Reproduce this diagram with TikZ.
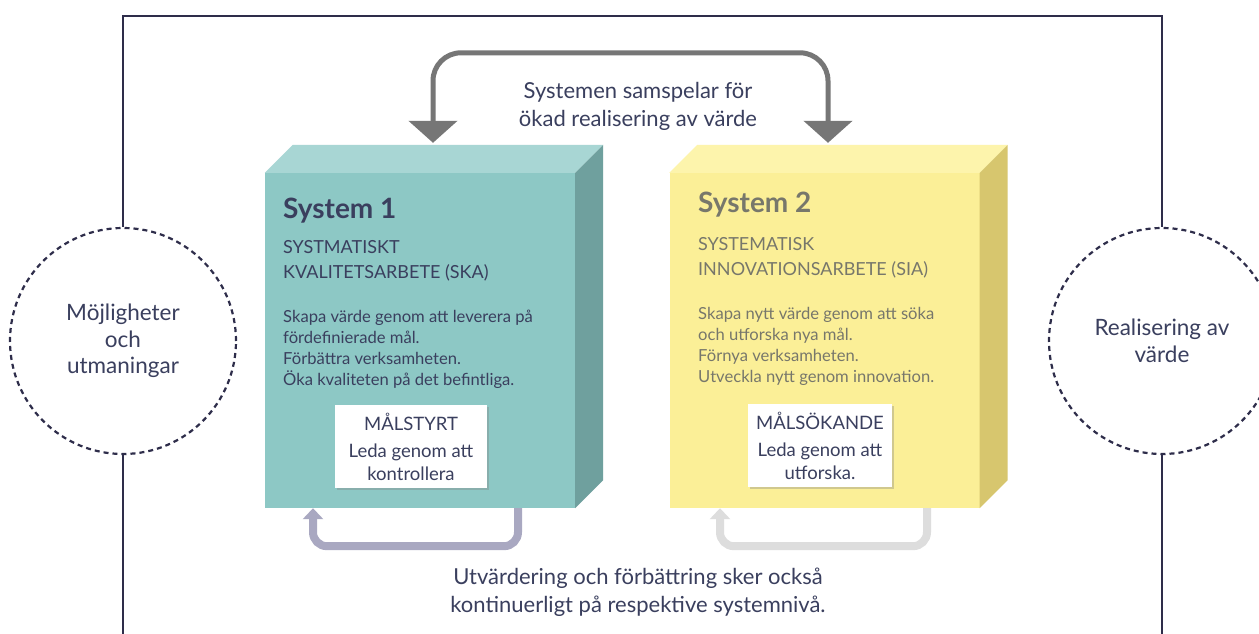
\documentclass[tikz,border=0pt]{standalone}
\usepackage{fontspec}
\setmainfont{Lato}
\usetikzlibrary{positioning,arrows.meta,calc,shadows}
\definecolor{ink}{HTML}{3A3F5E}
\definecolor{edge}{HTML}{2E2D4A}
\definecolor{tealfront}{HTML}{8DC8C5}
\definecolor{tealtop}{HTML}{A8D6D4}
\definecolor{tealside}{HTML}{6FA09E}
\definecolor{sunfront}{HTML}{FBEF97}
\definecolor{suntop}{HTML}{FDF4AC}
\definecolor{sunside}{HTML}{D7C66E}
\definecolor{sungray}{HTML}{77776B}
\definecolor{linkgray}{HTML}{767676}
\definecolor{loopone}{HTML}{A9A8C1}
\definecolor{looptwo}{HTML}{DDDDDD}

\begin{document}
\begin{tikzpicture}[x=1pt, y=-1pt,
      font=\fontsize{14}{21}\selectfont, text=ink,
      front/.style={minimum width=310pt, minimum height=335pt,
                    inner sep=0pt},
      title/.style={font=\fontsize{28}{32}\selectfont\bfseries,
                    anchor=base west, inner sep=0pt},
      caps/.style={font=\fontsize{18}{25}\selectfont, align=left,
                   anchor=base west, inner sep=0pt},
      body/.style={font=\fontsize{16.6}{21}\selectfont, align=left,
                   anchor=base west, inner sep=0pt},
      memo/.style={fill=white, inner sep=0pt, align=center,
                   font=\fontsize{18.5}{23}\selectfont, text=ink,
                   drop shadow={shadow xshift=1.5pt, shadow yshift=-1.5pt,
                                opacity=.35}},
      ring/.style={circle, draw=edge, line width=2.2pt,
                   dash pattern=on 5pt off 4pt, minimum size=226pt,
                   align=center, font=\fontsize{22.5}{26.5}\selectfont},
      note/.style={align=center, font=\fontsize{22}{28}\selectfont},
      frameline/.style={draw=edge, line width=2pt},
      link/.style={{Triangle[width=48pt,length=22pt]}-{Triangle[width=48pt,length=22pt]},
                   line width=5pt, draw=linkgray, rounded corners=28pt},
      renew/.style={-{Triangle[width=20pt,length=11pt]}, line width=8pt,
                    rounded corners=14pt}
    ]
    \useasboundingbox[fill=white] (0,0) rectangle (1259,634);

    % outer frame, broken by the two dashed circles
    \node[ring] (chance) at (123,341) {Möjligheter\\och\\utmaningar};
    \node[ring] (worth) at (1162,341) {Realisering av\\värde};
    \draw[frameline] (chance.north) |- (1162,16) -- (worth.north);
    \draw[frameline] (chance.south) -- (chance.south |- 0,634);
    \draw[frameline] (worth.south) -- (worth.south |- 0,634);

    % System 1 block
    \node[front, fill=tealfront] (sys1) at (420,340.5) {};
    \fill[tealtop] (sys1.north west) -- ++(28pt,28pt) -- ([shift={(28pt,28pt)}]sys1.north east)
      -- (sys1.north east) -- cycle;
    \fill[tealside] (sys1.north east) -- ++(28pt,28pt) -- ([shift={(28pt,28pt)}]sys1.south east)
      -- (sys1.south east) -- cycle;
    \node[title, text=ink] (head1) at (283,218) {System 1};
    \node[caps] (kind1) at (283,278) {SYSTMATISKT\\KVALITETSARBETE (SKA)};
    \node[body] (text1) at (283,385) {Skapa värde genom att leverera på\\
      fördefinierade mål.\\Förbättra verksamheten.\\Öka kvaliteten på det befintliga.};
    \node[memo, minimum width=152pt, minimum height=83pt] (mode1) at (411,446.5)
      {MÅLSTYRT\\[4pt]Leda genom att\\kontrollera};

    % System 2 block
    \node[front, fill=sunfront] (sys2) at (824.5,340.5) {};
    \fill[suntop] (sys2.north west) -- ++(28pt,28pt) -- ([shift={(28pt,28pt)}]sys2.north east)
      -- (sys2.north east) -- cycle;
    \fill[sunside] (sys2.north east) -- ++(28pt,28pt) -- ([shift={(28pt,28pt)}]sys2.south east)
      -- (sys2.south east) -- cycle;
    \node[title, text=sungray] (head2) at (698,212) {System 2};
    \node[caps, text=sungray] (kind2) at (698,275) {SYSTEMATISK\\INNOVATIONSARBETE (SIA)};
    \node[body, text=sungray] (text2) at (698,382) {Skapa nytt värde genom att söka\\
      och utforska nya mål.\\Förnya verksamheten.\\Utveckla nytt genom innovation.};
    \node[memo, minimum width=144pt, minimum height=83pt] (mode2) at (820,445.5)
      {MÅLSÖKANDE\\[4pt]Leda genom att\\utforska.};

    % interplay between the two systems
    \coordinate (in1) at ([shift={(13pt,30pt)}]sys1.north);
    \coordinate (in2) at ([shift={(3.5pt,30pt)}]sys2.north);
    \draw[link] (in1) -- ++(0,-90) -| (in2);
    \node[note] (together) at (638,106) {Systemen samspelar för\\ökad realisering av värde};

    % continuous improvement within each system
    \draw[renew, draw=loopone] ([xshift=98pt]sys1.south) -- ++(0,38) -| ([xshift=-107pt]sys1.south);
    \draw[renew, draw=looptwo] ([xshift=102.5pt]sys2.south) -- ++(0,38) -| ([xshift=-104.5pt]sys2.south);
    \node[note] (steady) at (638,592) {Utvärdering och förbättring sker också\\
      kontinuerligt på respektive systemnivå.};

  \end{tikzpicture}
\end{document}
